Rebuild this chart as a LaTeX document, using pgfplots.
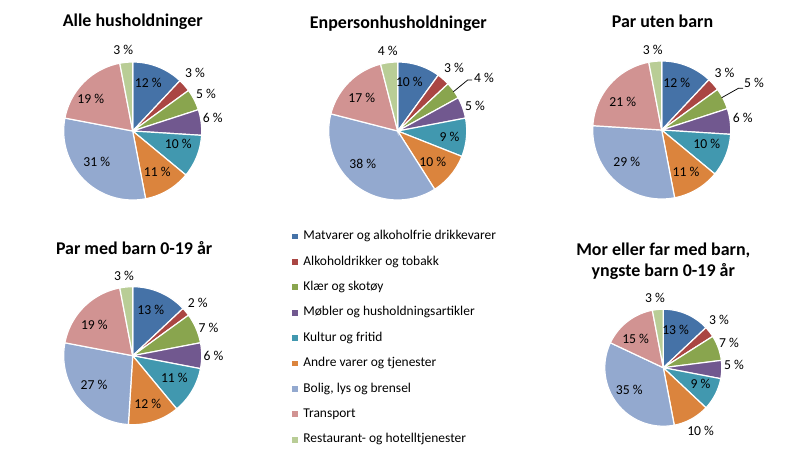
\documentclass[border=0pt]{standalone}
\usepackage{fontspec}
\setmainfont{Carlito}
\usepackage{pgfplots}
\pgfplotsset{compat=1.18}
\definecolor{c1}{HTML}{4572A7}
\definecolor{c2}{HTML}{AA4643}
\definecolor{c3}{HTML}{89A54E}
\definecolor{c4}{HTML}{71588F}
\definecolor{c5}{HTML}{4198AF}
\definecolor{c6}{HTML}{DB843D}
\definecolor{c7}{HTML}{93A9CF}
\definecolor{c8}{HTML}{D19392}
\definecolor{c9}{HTML}{B9CD96}
\newcommand\lblfont{\fontsize{13.7}{16}\selectfont}
\newcommand\legfont{\fontsize{13.5}{16}\selectfont}
\newcommand\ttlfont{\fontsize{18}{21}\selectfont\bfseries}
% #1 radius (px), #2 list of shares in percent
\newcommand\pie[2]{%
  \gdef\cum{0}%
  \foreach \v [count=\i] in {#2} {%
    \pgfmathsetmacro\angB{90-3.6*\cum}%
    \pgfmathsetmacro\newcum{\cum+\v}%
    \pgfmathsetmacro\angA{90-3.6*\newcum}%
    \xdef\cum{\newcum}%
    \edef\tmp{\noexpand\addplot[fill=c\i, draw=white, line width=1.2bp, domain=\angA:\angB, samples=60] ({#1*cos(x)},{#1*sin(x)}) -- (axis cs:0,0) -- cycle;}%
    \tmp
  }%
}
\newcommand\lbl[3]{\node[font=\lblfont, inner sep=0pt] at (axis cs:#1,#2) {#3 \%};}
\pgfplotsset{pieax/.style={scale only axis, hide axis, clip=false, anchor=center,
  xmin=-#1, xmax=#1, ymin=-#1, ymax=#1}}
\begin{document}
\begin{tikzpicture}
% ---------- Alle husholdninger
\begin{axis}[pieax=69, width=138bp, height=138bp, at={(132.7bp,-131bp)},
  legend entries={Matvarer og alkoholfrie drikkevarer, Alkoholdrikker og tobakk, Klær og skotøy,
    Møbler og husholdningsartikler, Kultur og fritid, Andre varer og tjenester,
    {Bolig, lys og brensel}, Transport, Restaurant- og hotelltjenester},
  legend image code/.code={\fill[#1] (0bp,-3.5bp) rectangle (7bp,3.5bp);},
  legend cell align=left,
  legend style={at={(axis description cs:1.647,-0.218)}, anchor=north west, draw=none, fill=none,
    inner sep=0pt, row sep=12.9bp, column sep=4bp, font=\legfont,
    nodes={inner sep=0pt, text height=9.5bp, text depth=3bp}},
]
\pie{69}{12,3,5,6,10,11,31,19,3}
\lbl{15.6}{47.7}{12}
\lbl{62.3}{58.3}{3}
\lbl{73.3}{37}{5}
\lbl{80}{12.7}{6}
\lbl{45.6}{-13}{10}
\lbl{24.6}{-40.7}{11}
\lbl{-36}{-31.3}{31}
\lbl{-42}{31.7}{19}
\lbl{-9.4}{81}{3}
\end{axis}
% ---------- Enpersonhusholdninger
\begin{axis}[pieax=69, width=138bp, height=138bp, at={(397.7bp,-131bp)}]
\pie{69}{10,3,4,5,9,10,38,17,4}
\lbl{11.7}{49.3}{10}
\lbl{56.3}{62.7}{3}
\lbl{86.3}{52.7}{4}
\lbl{77.3}{25}{5}
\lbl{51.7}{-5.7}{9}
\lbl{35}{-31.3}{10}
\lbl{-35}{-33.3}{38}
\lbl{-36}{33.3}{17}
\lbl{-10}{80.3}{4}
\draw[black, line width=0.75bp] (axis cs:74.5,51) -- (axis cs:70,51) -- (axis cs:55.7,39.3);
\end{axis}
% ---------- Par uten barn
\begin{axis}[pieax=69, width=138bp, height=138bp, at={(661.7bp,-130bp)}]
\pie{69}{12,3,5,6,10,11,29,21,3}
\lbl{15}{47.3}{12}
\lbl{62.7}{56.7}{3}
\lbl{92.3}{46.7}{5}
\lbl{81}{12.3}{6}
\lbl{45}{-14}{10}
\lbl{24.3}{-41.7}{11}
\lbl{-35}{-32.3}{29}
\lbl{-39}{28.3}{21}
\lbl{-9}{80}{3}
\draw[black, line width=0.75bp] (axis cs:81.5,41.7) -- (axis cs:76.7,41.7) -- (axis cs:60,32.3);
\end{axis}
% ---------- Par med barn 0-19 år
\begin{axis}[pieax=69, width=138bp, height=138bp, at={(132.7bp,-355.7bp)}]
\pie{69}{13,2,7,6,11,12,27,19,3}
\lbl{18}{46.3}{13}
\lbl{65}{53.3}{2}
\lbl{75.7}{28.3}{7}
\lbl{80.7}{-0.3}{6}
\lbl{41.7}{-21.7}{11}
\lbl{15}{-48.3}{12}
\lbl{-38.7}{-29.3}{27}
\lbl{-38.3}{30.7}{19}
\lbl{-8.7}{80}{3}
\end{axis}
% ---------- Mor eller far med barn
\begin{axis}[pieax=58.5, width=117bp, height=117bp, at={(663.3bp,-367.7bp)}]
\pie{58.5}{13,3,7,5,9,10,35,15,3}
\lbl{12.3}{38.3}{13}
\lbl{55.7}{47.7}{3}
\lbl{65.7}{25.3}{7}
\lbl{70.7}{2.7}{5}
\lbl{37.3}{-16.3}{9}
\lbl{37.3}{-63}{10}
\lbl{-34}{-21.7}{35}
\lbl{-27.7}{29.3}{15}
\lbl{-8.3}{70}{3}
\end{axis}
% ---------- titles
\node[font=\ttlfont, anchor=base] at (132.7bp,-26.7bp) {Alle husholdninger};
\node[font=\ttlfont, anchor=base] at (398.3bp,-28bp) {Enpersonhusholdninger};
\node[font=\ttlfont, anchor=base] at (662.5bp,-27.7bp) {Par uten barn};
\node[font=\ttlfont, anchor=base] at (134.2bp,-254bp) {Par med barn 0-19 år};
\node[font=\ttlfont, anchor=base] at (663.3bp,-255bp) {Mor eller far med barn,};
\node[font=\ttlfont, anchor=base] at (663.3bp,-276bp) {yngste barn 0-19 år};
\pgfresetboundingbox
\path[use as bounding box] (0,0) rectangle (794bp,-454bp);
\end{tikzpicture}
\end{document}
